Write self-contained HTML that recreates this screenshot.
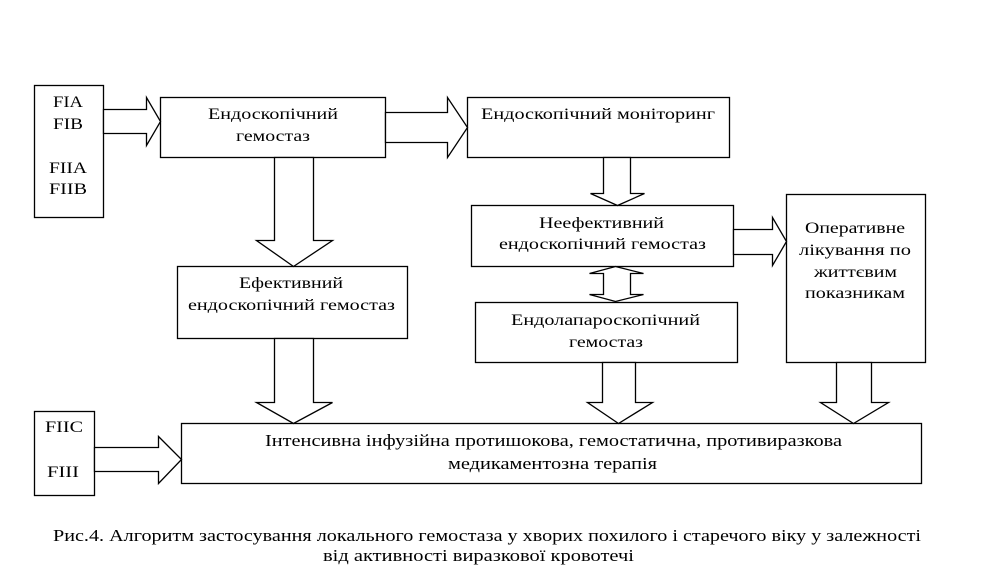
<!DOCTYPE html>
<html><head><meta charset="utf-8"><style>
html,body{margin:0;padding:0;background:#fff;}
svg{display:block;}
text{font-family:"Liberation Serif",serif;font-size:16px;fill:#000;}
</style></head><body>
<svg width="996" height="581" viewBox="0 0 996 581" xmlns="http://www.w3.org/2000/svg">
<g fill="#fff" stroke="#000" stroke-width="1.3">
<rect x="34.5" y="85.5" width="69" height="132"/>
<rect x="160.5" y="97.5" width="225" height="60"/>
<rect x="467.5" y="97.5" width="262" height="60"/>
<rect x="177.5" y="266.5" width="230" height="72"/>
<rect x="471.5" y="205.5" width="262" height="61"/>
<rect x="475.5" y="302.5" width="262" height="60"/>
<rect x="786.5" y="194.5" width="139" height="168"/>
<rect x="181.5" y="423.5" width="740" height="60"/>
<rect x="34.5" y="411.5" width="60" height="84"/>
<!-- arrows -->
<polygon points="103.5,109.5 146.5,109.5 146.5,97.5 160.5,121.5 146.5,145.5 146.5,133.5 103.5,133.5"/>
<polygon points="385.5,112.5 447.5,112.5 447.5,97.5 467.5,127.5 447.5,157.5 447.5,142.5 385.5,142.5"/>
<polygon points="274.5,157.5 313.5,157.5 313.5,240.5 332.5,240.5 293.5,266.5 256.5,240.5 274.5,240.5"/>
<polygon points="274.5,338.5 313.5,338.5 313.5,402.5 332.5,402.5 293.5,423.5 256.5,402.5 274.5,402.5"/>
<polygon points="603.5,157.5 630.5,157.5 630.5,193.5 644.5,193.5 617.5,205.5 590.5,193.5 603.5,193.5"/>
<polygon points="615.5,266.5 643.5,273.5 630.5,273.5 630.5,294.5 643.5,294.5 615.5,301.5 589.5,294.5 603.5,294.5 603.5,273.5 589.5,273.5"/>
<polygon points="733.5,229.5 772.5,229.5 772.5,217.5 786.5,241.5 772.5,265.5 772.5,254.5 733.5,254.5"/>
<polygon points="602.5,362.5 635.5,362.5 635.5,402.5 652.5,402.5 618.5,423.5 587.5,402.5 602.5,402.5"/>
<polygon points="836.5,362.5 871.5,362.5 871.5,402.5 888.5,402.5 853.5,423.5 820.5,402.5 836.5,402.5"/>
<polygon points="94.5,447.5 158.5,447.5 158.5,436.5 181.5,459.5 158.5,483.5 158.5,471.5 94.5,471.5"/>
</g>
<text x="53" y="107" textLength="30" lengthAdjust="spacingAndGlyphs">FIA</text>
<text x="53" y="129" textLength="30" lengthAdjust="spacingAndGlyphs">FIB</text>
<text x="49" y="173" textLength="38" lengthAdjust="spacingAndGlyphs">FIIA</text>
<text x="49" y="194" textLength="38" lengthAdjust="spacingAndGlyphs">FIIB</text>
<text x="208" y="119" textLength="130" lengthAdjust="spacingAndGlyphs">Ендоскопічний</text>
<text x="236" y="141" textLength="74" lengthAdjust="spacingAndGlyphs">гемостаз</text>
<text x="481" y="119" textLength="234" lengthAdjust="spacingAndGlyphs">Ендоскопічний моніторинг</text>
<text x="239" y="288" textLength="104" lengthAdjust="spacingAndGlyphs">Ефективний</text>
<text x="188" y="310" textLength="207" lengthAdjust="spacingAndGlyphs">ендоскопічний гемостаз</text>
<text x="539" y="228" textLength="125" lengthAdjust="spacingAndGlyphs">Неефективний</text>
<text x="499" y="249" textLength="207" lengthAdjust="spacingAndGlyphs">ендоскопічний гемостаз</text>
<text x="511" y="325" textLength="189" lengthAdjust="spacingAndGlyphs">Ендолапароскопічний</text>
<text x="569" y="347" textLength="74" lengthAdjust="spacingAndGlyphs">гемостаз</text>
<text x="805" y="233" textLength="100" lengthAdjust="spacingAndGlyphs">Оперативне</text>
<text x="799" y="255" textLength="112" lengthAdjust="spacingAndGlyphs">лікування по</text>
<text x="814" y="277" textLength="83" lengthAdjust="spacingAndGlyphs">життєвим</text>
<text x="805" y="298" textLength="100" lengthAdjust="spacingAndGlyphs">показникам</text>
<text x="45" y="432" textLength="38" lengthAdjust="spacingAndGlyphs">FIIC</text>
<text x="47" y="477" textLength="32" lengthAdjust="spacingAndGlyphs">FIII</text>
<text x="265" y="446" textLength="577" lengthAdjust="spacingAndGlyphs" style="font-size:17px">Інтенсивна інфузійна протишокова, гемостатична, противиразкова</text>
<text x="448" y="469" textLength="209" lengthAdjust="spacingAndGlyphs" style="font-size:17px">медикаментозна терапія</text>
<text x="53" y="541" textLength="868" lengthAdjust="spacingAndGlyphs" style="font-size:17px">Рис.4. Алгоритм застосування локального гемостаза у хворих похилого і старечого віку у залежності</text>
<text x="323" y="561" textLength="311" lengthAdjust="spacingAndGlyphs" style="font-size:17px">від активності виразкової кровотечі</text>
</svg>
</body></html>
